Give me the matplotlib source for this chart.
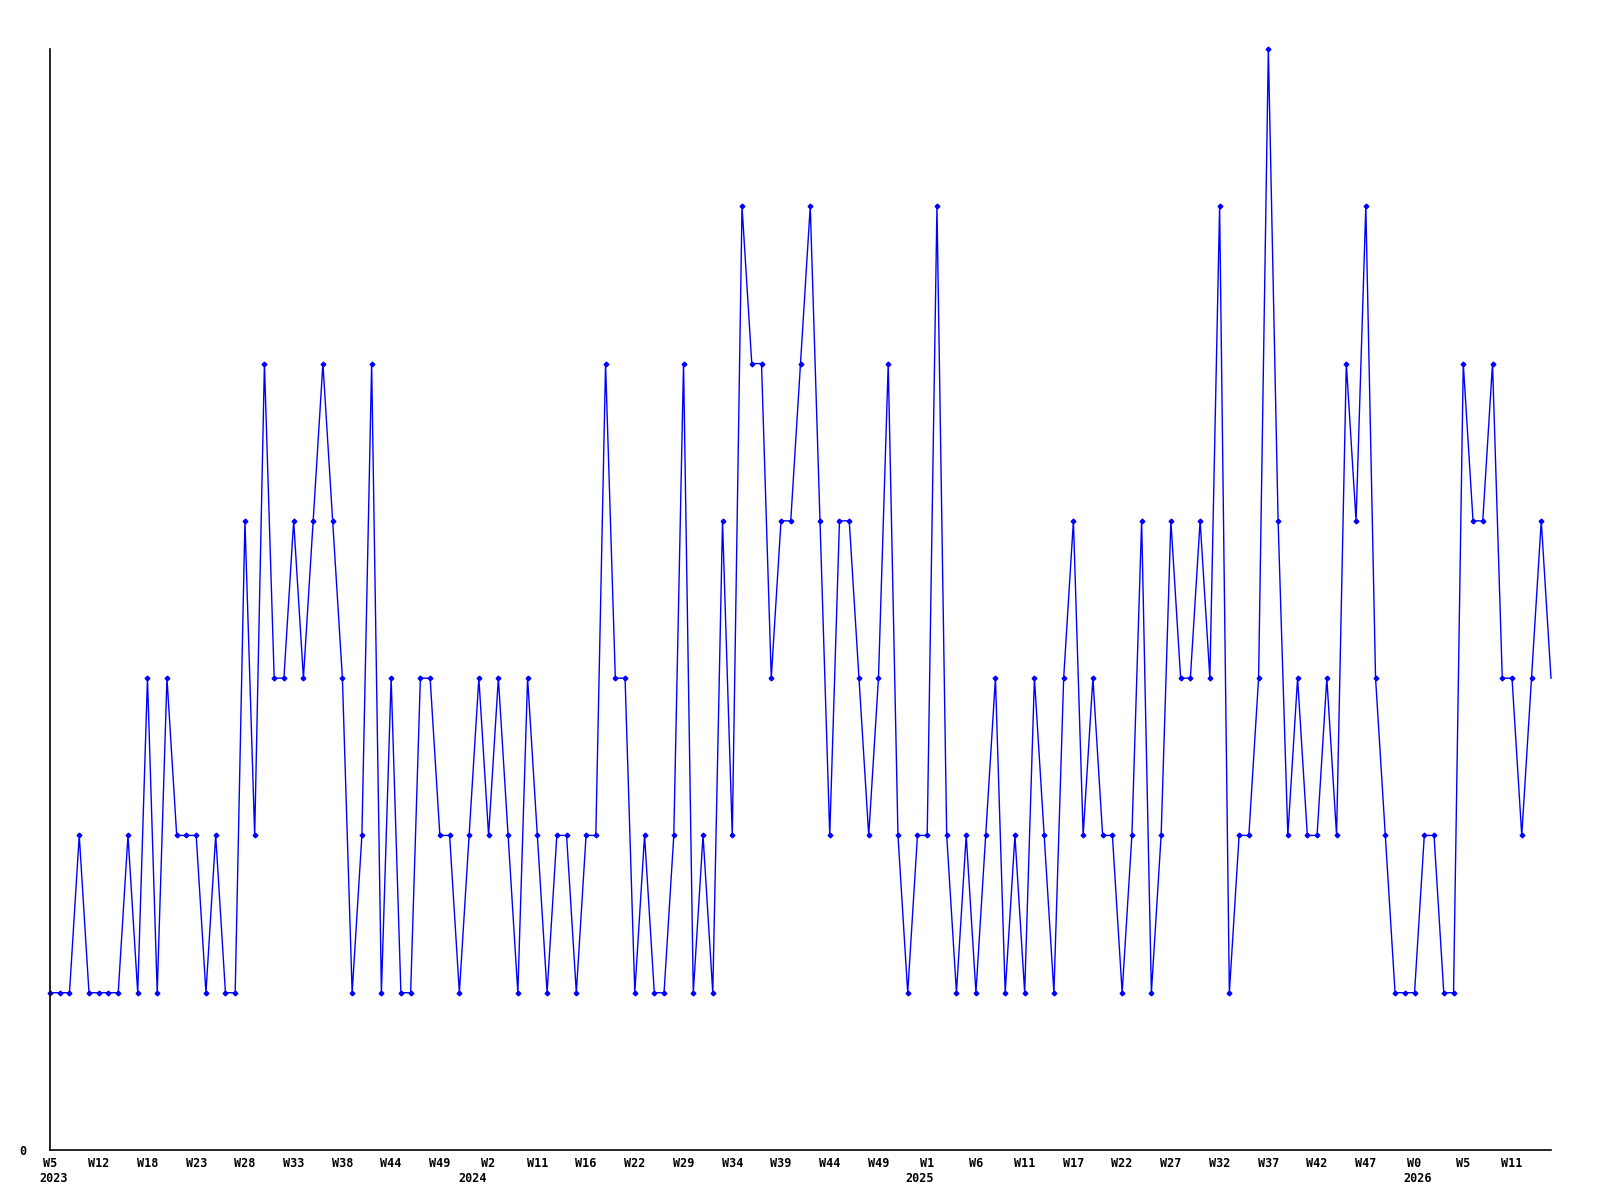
import matplotlib
matplotlib.use("Agg")
import matplotlib.pyplot as plt

# Weekly values (155 points)
values = [
    1, 1, 1, 2, 1, 1, 1, 1, 2, 1, 3, 1, 3, 2, 2, 2, 1, 2, 1, 1, 4, 2, 5, 3, 3, 4,
    3, 4, 5, 4, 3, 1, 2, 5, 1, 3, 1, 1, 3, 3, 2, 2, 1, 2, 3, 2, 3, 2, 1, 3, 2, 1,
    2, 2, 1, 2, 2, 5, 3, 3, 1, 2, 1, 1, 2, 5, 1, 2, 1, 4, 2, 6, 5, 5, 3, 4, 4, 5,
    6, 4, 2, 4, 4, 3, 2, 3, 5, 2, 1, 2, 2, 6, 2, 1, 2, 1, 2, 3, 1, 2, 1, 3, 2,
    1, 3, 4, 2, 3, 2, 2, 1, 2, 4, 1, 2, 4, 3, 3, 4, 3, 6, 1, 2, 2, 3, 7, 4, 2, 3,
    2, 2, 3, 2, 5, 4, 6, 3, 2, 1, 1, 1, 2, 2, 1, 1, 5, 4, 4, 5, 3, 3, 2, 3, 4, 3,
]

week_labels = ["W5", "W12", "W18", "W23", "W28", "W33", "W38", "W44", "W49",
               "W2", "W11", "W16", "W22", "W29", "W34", "W39", "W44", "W49",
               "W1", "W6", "W11", "W17", "W22", "W27", "W32", "W37", "W42",
               "W47", "W0", "W5", "W11"]
week_tick_pos = list(range(0, 151, 5))

year_labels = ["2023", "2024", "2025", "2026"]
year_pos = [0.34, 43.35, 89.26, 140.3]

fig = plt.figure(figsize=(16, 12), dpi=100)
ax = fig.add_axes([50 / 1600, 1 - 1150 / 1200, 1501 / 1600, 1101 / 1200])

x = list(range(len(values)))
ax.plot(x, values, color="#0000ff", linewidth=1.0, marker="D", markersize=2.4,
        markerfacecolor="#0000ff", markeredgecolor="#0000ff", clip_on=False,
        markevery=list(range(len(values) - 1)))

ax.set_xlim(0, 154)
ax.set_ylim(0, 7)

for s in ["top", "right"]:
    ax.spines[s].set_visible(False)
for s in ["left", "bottom"]:
    ax.spines[s].set_linewidth(1.2)
    ax.spines[s].set_color("black")

font = dict(family="DejaVu Sans Mono", weight="bold", size=8.5)

ax.set_xticks(week_tick_pos)
ax.set_xticklabels(week_labels, fontdict=font)
ax.tick_params(axis="x", length=0, pad=5)

ax.set_yticks([0])
ax.set_yticklabels(["0"], fontdict=font)
ax.tick_params(axis="y", length=0, pad=17)

for lbl, pos in zip(year_labels, year_pos):
    ax.text(pos, -0.0255, lbl, transform=ax.get_xaxis_transform(),
            ha="center", va="center", **font)

fig.savefig("out.png", dpi=100)
